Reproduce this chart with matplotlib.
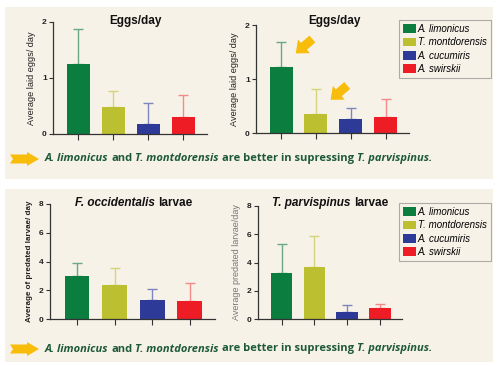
import numpy as np
import matplotlib
matplotlib.use("Agg")
import matplotlib.pyplot as plt
from matplotlib.patches import Rectangle, Polygon, Patch
from matplotlib.font_manager import FontProperties

# Data
species = ["A. limonicus", "T. montdorensis", "A. cucumiris", "A. swirskii"]
eggs_a_mean = [1.25, 0.48, 0.17, 0.31]
eggs_a_err = [0.63, 0.29, 0.38, 0.38]
eggs_b_mean = [1.22, 0.36, 0.26, 0.29]
eggs_b_err = [0.47, 0.46, 0.20, 0.34]
focc_mean = [3.00, 2.38, 1.34, 1.23]
focc_err = [0.93, 1.16, 0.74, 1.24]
tparv_mean = [3.27, 3.65, 0.47, 0.78]
tparv_err = [2.07, 2.25, 0.49, 0.30]

bar_colors = ["#0b7d3f", "#bcbf30", "#2e3a98", "#ee1d25"]
err_colors = ["#6aa882", "#d3d47c", "#7d86c0", "#f28a8a"]
bg = "#f7f2e8"
text_green = "#1d5a38"
arrow_yellow = "#f7bd0a"

plt.rcParams["font.family"] = ["Liberation Sans", "DejaVu Sans"]

W, H = 500, 366
fig = plt.figure(figsize=(W / 100, H / 100), dpi=100)
fig.patch.set_facecolor("white")
renderer = fig.canvas.get_renderer()


def px_axes(left, top, right, bottom):
    return fig.add_axes([left / W, 1 - bottom / H, (right - left) / W, (bottom - top) / H])


def text_width(s, family, size, weight, style):
    fp = FontProperties(family=family, size=size, weight=weight, style=style)
    w, h, d = renderer.get_text_width_height_descent(s, fp, ismath=False)
    return w


def mixed_text(parts, x, y, family, size, color, align="left"):
    # parts: list of (text, style); words joined by single spaces
    space = text_width("a a", family, size, "bold", "normal") - text_width("aa", family, size, "bold", "normal")
    widths = [text_width(p, family, size, "bold", st) for p, st in parts]
    total = sum(widths) + space * (len(parts) - 1)
    xpos = x - total / 2 if align == "center" else x
    for (p, st), w in zip(parts, widths):
        fig.text(xpos / W, 1 - y / H, p, fontsize=size, fontweight="bold", style=st,
                 color=color, va="center", ha="left", family=family)
        xpos += w + space


# panel backgrounds
for top, bottom in [(7, 179), (189, 362)]:
    fig.patches.append(Rectangle((5 / W, 1 - bottom / H), 488 / W, (bottom - top) / H,
                                 transform=fig.transFigure, facecolor=bg, edgecolor="none", zorder=-5))


def bar_panel(ax, means, errs, ymax, step, ylabel, ylab_style):
    x = np.arange(len(means))
    ax.set_facecolor("none")
    ax.bar(x, means, width=0.66, color=bar_colors, zorder=2)
    for i in range(len(means)):
        ax.errorbar(x[i], means[i], yerr=[[0], [errs[i]]], color=err_colors[i],
                    capsize=3.6, elinewidth=1, capthick=1, zorder=1)
    ax.set_xlim(-0.72, 3.67)
    ax.set_ylim(0, ymax)
    ax.set_yticks(np.arange(0, ymax + 0.01, step))
    ax.set_xticks(x)
    ax.set_xticklabels([])
    for s in ["top", "right"]:
        ax.spines[s].set_visible(False)
    for s in ["left", "bottom"]:
        ax.spines[s].set_color("#333333")
        ax.spines[s].set_linewidth(0.9)
    ax.tick_params(axis="x", length=4, width=0.8, color="#333333")
    ax.tick_params(axis="y", length=3, width=0.8, color="#333333", pad=1.5)
    for lab in ax.get_yticklabels():
        lab.set_fontweight("bold")
        lab.set_fontsize(6)
        lab.set_color("#222222")
    ax.set_ylabel(ylabel, labelpad=4, **ylab_style)
    return x


chart_font = ["Liberation Sans", "DejaVu Sans"]

# top-left
ax1 = px_axes(53, 22, 207, 134)
bar_panel(ax1, eggs_a_mean, eggs_a_err, 2, 1, "Average laid eggs/ day",
          dict(fontsize=6.6, color="#222222"))
mixed_text([("Eggs/day", "normal")], 135, 21, chart_font, 8.5, "#111111", align="center")

# top-right
ax2 = px_axes(256, 25, 409, 133)
x2 = bar_panel(ax2, eggs_b_mean, eggs_b_err, 2, 1, "Average laid eggs/ day",
               dict(fontsize=6.6, color="#222222"))
mixed_text([("Eggs/day", "normal")], 334, 21, chart_font, 8.5, "#111111", align="center")
for i in [0, 1]:
    ax2.annotate("", xy=(x2[i] + 0.36, eggs_b_mean[i] + 0.22), xytext=(15, 13),
                 textcoords="offset points",
                 arrowprops=dict(arrowstyle="simple,head_width=1.0,head_length=0.6,tail_width=0.5",
                                 mutation_scale=13, color=arrow_yellow, lw=0))

# bottom-left
ax3 = px_axes(50, 204, 215, 319)
bar_panel(ax3, focc_mean, focc_err, 8, 2, "Average of predated larvae/ day",
          dict(fontsize=5.8, color="#222222", fontweight="bold"))
mixed_text([("F. occidentalis", "italic"), ("larvae", "normal")], 134, 203,
           chart_font, 8.5, "#111111", align="center")

# bottom-right
ax4 = px_axes(258, 206, 402, 319)
bar_panel(ax4, tparv_mean, tparv_err, 8, 2, "Average predated larvae/day",
          dict(fontsize=6.5, color="#777777"))
mixed_text([("T. parvispinus", "italic"), ("larvae", "normal")], 330, 203,
           chart_font, 8.5, "#111111", align="center")

# legends
handles = [Patch(facecolor=c, edgecolor="none") for c in bar_colors]
for top in [20, 203]:
    leg = fig.legend(handles, species, loc="upper left",
                     bbox_to_anchor=(399 / W, 1 - top / H), frameon=True,
                     prop=dict(style="italic", size=7), handlelength=1.3,
                     handleheight=1.0, handletextpad=0.25, labelspacing=0.35,
                     borderpad=0.4, borderaxespad=0, fancybox=False, shadow=False)
    leg.get_frame().set_edgecolor("#999999")
    leg.get_frame().set_linewidth(0.8)
    leg.get_frame().set_facecolor(bg)

# captions
caption = [("A. limonicus", "italic"), ("and", "normal"), ("T. montdorensis", "italic"),
           ("are better in supressing", "normal"), ("T. parvispinus.", "italic")]
for yc in [159, 349]:
    mixed_text(caption, 45, yc, ["Open Sans", "DejaVu Sans"], 8.0, text_green)
    # yellow arrow
    pts = [(10, yc - 4.5), (27, yc - 4.5), (27, yc - 7), (39, yc), (27, yc + 7),
           (27, yc + 4.5), (10, yc + 4.5), (13, yc)]
    fig.patches.append(Polygon([(px / W, 1 - py / H) for px, py in pts], closed=True,
                               transform=fig.transFigure, facecolor=arrow_yellow,
                               edgecolor="none", zorder=3))

fig.savefig("out.png", dpi=100, facecolor="white")
